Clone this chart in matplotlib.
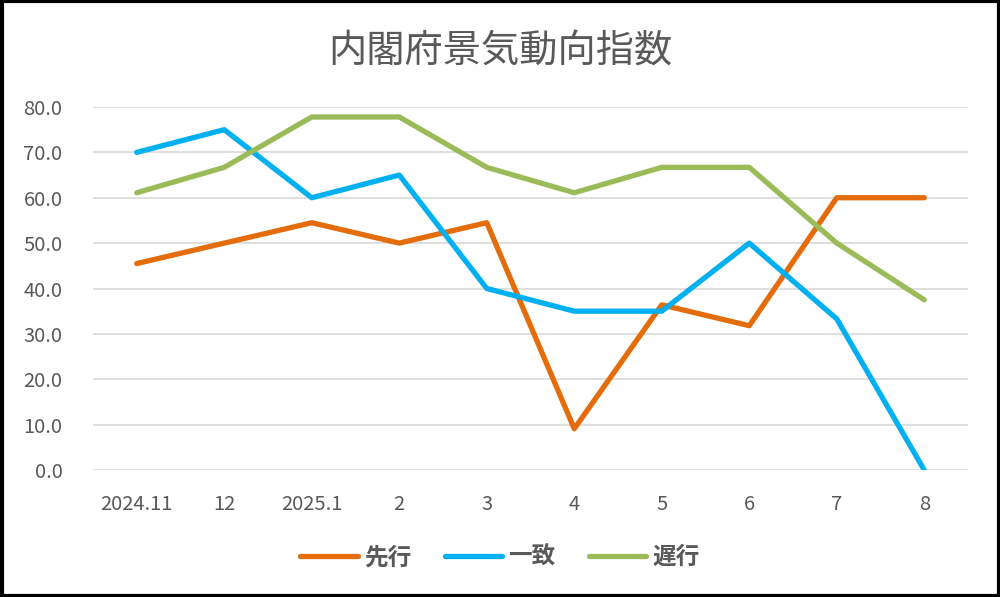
import matplotlib.pyplot as plt
from matplotlib.patches import Rectangle

plt.rcParams['font.family'] = ['Noto Sans CJK JP', 'DejaVu Sans']

months = ['2024.11', '12', '2025.1', '2', '3', '4', '5', '6', '7', '8']
leading = [45.5, 50.0, 54.5, 50.0, 54.5, 9.1, 36.4, 31.8, 60.0, 60.0]
coincident = [70.0, 75.0, 60.0, 65.0, 40.0, 35.0, 35.0, 50.0, 33.3, 0.0]
lagging = [61.1, 66.7, 77.8, 77.8, 66.7, 61.1, 66.7, 66.7, 50.0, 37.5]

series = [('先行', leading, '#E46C0A'),
          ('一致', coincident, '#00B0F0'),
          ('遅行', lagging, '#9BBB59')]

fig = plt.figure(figsize=(10, 5.97), dpi=100)
ax = fig.add_axes([0.093, 0.2127, 0.875, 0.6081])

x = range(len(months))
for name, vals, col in series:
    ax.plot(x, vals, color=col, lw=3.8, label=name, solid_capstyle='round',
            solid_joinstyle='round')

ax.set_xlim(-0.5, len(months) - 0.5)
ax.set_ylim(0, 80)
ax.set_yticks(range(0, 81, 10))
ax.set_yticklabels([f'{v:.1f}' for v in range(0, 81, 10)])
ax.set_xticks(list(x))
ax.set_xticklabels(months)
ax.grid(axis='y', color='#D9D9D9', lw=1.2)
ax.set_axisbelow(True)
for s in ax.spines.values():
    s.set_visible(False)
ax.tick_params(length=0, labelsize=14.5, colors='#595959', pad=17)
ax.tick_params(axis='y', pad=22)

fig.text(0.5, 0.913, '内閣府景気動向指数', ha='center', va='center',
         fontsize=27.5, color='#595959')

leg = fig.legend(loc='center', bbox_to_anchor=(0.5, 0.067), ncol=3,
                 frameon=False, handlelength=2.45, columnspacing=1.4,
                 handletextpad=0.25, prop={'size': 17, 'weight': 'bold'})
for t in leg.get_texts():
    t.set_color('#595959')

fig.patches.append(Rectangle((0.0015, 0.0025), 0.997, 0.995, transform=fig.transFigure,
                             fill=False, edgecolor='black', lw=3))

fig.savefig('out.png', dpi=100)
